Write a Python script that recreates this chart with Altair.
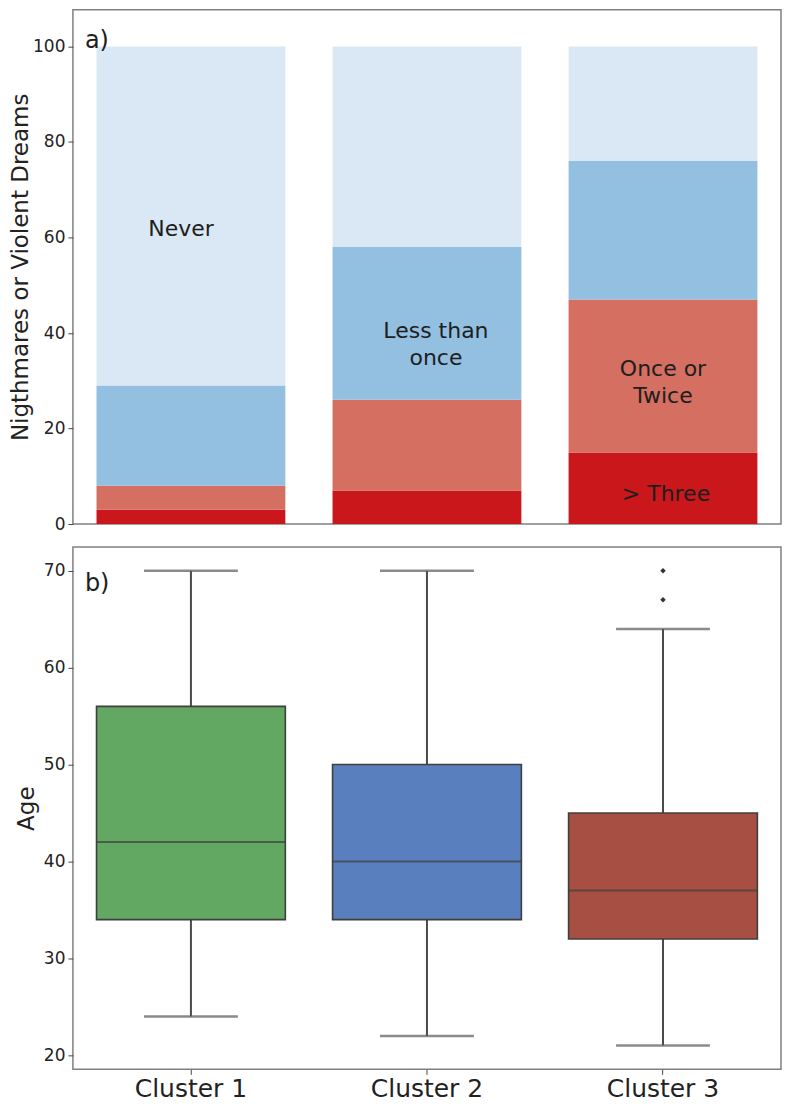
import altair as alt
import pandas as pd

# ---------------- data ----------------
clusters = ["Cluster 1", "Cluster 2", "Cluster 3"]
freq_levels = ["> Three", "Once or Twice", "Less than once", "Never"]
more_than_three = [3, 7, 15]
once_or_twice = [5, 19, 32]
less_than_once = [21, 32, 29]
never = [71, 42, 24]

age_low = [24, 22, 21]
age_q1 = [34, 34, 32]
age_median = [42, 40, 37]
age_q3 = [56, 50, 45]
age_high = [70, 70, 64]
outlier_cluster = ["Cluster 3", "Cluster 3"]
outlier_age = [67, 70]

freq_colors = ["#c9171c", "#d46f61", "#93bfe1", "#d9e8f4"]
box_colors = ["#62a862", "#5a7fbe", "#a84f44"]

FONT = "DejaVu Sans"
TXT = "#1e1e1e"

# ---------------- tables ----------------
series = [more_than_three, once_or_twice, less_than_once, never]
rows = []
for rank, (lvl, vals) in enumerate(zip(freq_levels, series)):
    for c, v in zip(clusters, vals):
        rows.append({"cluster": c, "level": lvl, "pct": v, "rank": rank})
df_stack = pd.DataFrame(rows)

df_box = pd.DataFrame({
    "cluster": clusters, "low": age_low, "q1": age_q1,
    "median": age_median, "q3": age_q3, "high": age_high,
})
df_out = pd.DataFrame({"cluster": outlier_cluster, "age": outlier_age})

W = 709
x_scale = alt.Scale(domain=clusters, paddingInner=0.2, paddingOuter=0.1)

# ---------------- panel a ----------------
bars = alt.Chart(df_stack).mark_bar().encode(
    x=alt.X("cluster:N", scale=x_scale, axis=None),
    y=alt.Y("pct:Q", stack="zero",
            scale=alt.Scale(domain=[0, 107.7], nice=False),
            axis=alt.Axis(values=[0, 20, 40, 60, 80, 100],
                          title="Nigthmares or Violent Dreams",
                          titlePadding=0, titleFontSize=23)),
    color=alt.Color("level:N", scale=alt.Scale(domain=freq_levels, range=freq_colors), legend=None),
    order=alt.Order("rank:Q", sort="ascending"),
)


def label(text, cluster, yval, dx):
    return alt.Chart(pd.DataFrame({"cluster": [cluster]})).mark_text(
        fontSize=22, font=FONT, color=TXT, align="center", baseline="middle",
        lineHeight=27, dx=dx,
    ).encode(
        x=alt.X("cluster:N", scale=x_scale, axis=None),
        y=alt.datum(yval),
        text=alt.value(text),
    )


lab_never = label("Never", "Cluster 1", 61.8, -10)
lab_less = label(["Less than", "once"], "Cluster 2", 40.4, 9)
lab_once = label(["Once or", "Twice"], "Cluster 3", 32.4, 0)
lab_three = label("> Three", "Cluster 3", 6.3, 3)

panel_a = alt.Chart(pd.DataFrame({"t": ["a)"]})).mark_text(
    fontSize=24, font=FONT, color=TXT, align="left", baseline="middle"
).encode(x=alt.value(12), y=alt.value(31), text="t:N")

top = alt.layer(bars, lab_never, lab_less, lab_once, lab_three, panel_a).properties(
    width=W, height=515
)

# ---------------- panel b ----------------
y_age = alt.Scale(domain=[18.55, 72.45], nice=False, zero=False)
xb = alt.X("cluster:N", scale=x_scale,
           axis=alt.Axis(title=None, labelAngle=0, labelFontSize=25, labelPadding=2))
y_axis_b = alt.Axis(values=[20, 30, 40, 50, 60, 70], title="Age", titlePadding=5, titleFontSize=23)

base = alt.Chart(df_box)
whisker = base.mark_rule(color="#4a4a4a", strokeWidth=2).encode(
    x=xb, y=alt.Y("low:Q", scale=y_age, axis=y_axis_b), y2="high:Q"
)
cap_low = base.mark_tick(color="#5a5a5a", thickness=2.5, size=94).encode(
    x=xb, y=alt.Y("low:Q", scale=y_age)
)
cap_high = base.mark_tick(color="#5a5a5a", thickness=2.5, size=94).encode(
    x=xb, y=alt.Y("high:Q", scale=y_age)
)
box = base.mark_bar(stroke="#3f3f3f", strokeWidth=1.6).encode(
    x=xb, y=alt.Y("q1:Q", scale=y_age), y2="q3:Q",
    color=alt.Color("cluster:N", scale=alt.Scale(domain=clusters, range=box_colors), legend=None),
)
median = base.mark_tick(color="#3f3f3f", thickness=2, size=189).encode(
    x=xb, y=alt.Y("median:Q", scale=y_age)
)
outliers = alt.Chart(df_out).mark_point(
    shape="diamond", filled=True, size=30, color="#333333", opacity=1
).encode(x=xb, y=alt.Y("age:Q", scale=y_age))

panel_b = alt.Chart(pd.DataFrame({"t": ["b)"]})).mark_text(
    fontSize=24, font=FONT, color=TXT, align="left", baseline="middle"
).encode(x=alt.value(12), y=alt.value(37), text="t:N")

bottom = alt.layer(whisker, cap_low, cap_high, box, median, outliers, panel_b).properties(
    width=W, height=523
)

chart = alt.vconcat(top, bottom, spacing=13).resolve_scale(
    color="independent", y="independent"
).properties(
    padding={"left": 0, "top": 0, "right": 0, "bottom": 0}
).configure(font=FONT).configure_view(
    stroke="#808080", strokeWidth=1.5
).configure_axis(
    grid=False, domain=False, tickSize=5, tickColor="#444444", tickWidth=1,
    labelFont=FONT, titleFont=FONT, labelFontSize=17, labelColor="#222222",
    titleColor="#222222", titleFontWeight="normal", labelPadding=3,
)

chart.save("out.html", embed_options={"renderer": "svg", "actions": False})
